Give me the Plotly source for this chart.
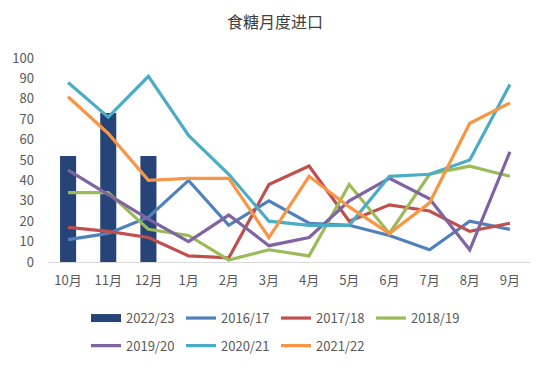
import plotly.graph_objects as go

months = ["10月", "11月", "12月", "1月", "2月", "3月", "4月", "5月", "6月", "7月", "8月", "9月"]
bar_name = "2022/23"
bar_values = [52, 73, 52]

s2016 = [11, 14, 22, 40, 18, 30, 19, 18, 13, 6, 20, 16]
s2017 = [17, 15, 12, 3, 2, 38, 47, 20, 28, 25, 15, 19]
s2018 = [34, 34, 16, 13, 1, 6, 3, 38, 14, 43, 47, 42]
s2019 = [45, 33, 21, 10, 23, 8, 12, 30, 41, 31, 6, 54]
s2020 = [88, 71, 91, 62, 43, 20, 18, 18, 42, 43, 50, 87]
s2021 = [81, 63, 40, 41, 41, 12, 42, 27, 14, 29, 68, 78]

series_names = ["2016/17", "2017/18", "2018/19", "2019/20", "2020/21", "2021/22"]
series_values = [s2016, s2017, s2018, s2019, s2020, s2021]
colors = ["#4f81bd", "#c0504d", "#9bbb59", "#8064a2", "#4bacc6", "#f79646"]
bar_color = "#264478"

font_family = "Noto Sans CJK SC, Noto Sans, sans-serif"
grey = "#595959"

fig = go.Figure()
fig.add_trace(go.Bar(
    x=months[:len(bar_values)], y=bar_values, name=bar_name,
    marker=dict(color=bar_color, line=dict(width=0)), width=0.4,
    legendgroup="bar", showlegend=False,
))
# legend-only entry so the bar key is drawn as a wide rectangle like the reference
fig.add_trace(go.Scatter(
    x=[None], y=[None], name=bar_name, mode="lines",
    line=dict(color=bar_color, width=8), legendgroup="bar", legend="legend",
    hoverinfo="skip",
))
for i, (name, vals, col) in enumerate(zip(series_names, series_values, colors)):
    fig.add_trace(go.Scatter(
        x=months, y=vals, name=name, mode="lines",
        line=dict(color=col, width=3.2),
        legend="legend" if i < 3 else "legend2",
    ))

legend_common = dict(
    orientation="h", xanchor="left", yanchor="middle",
    font=dict(size=13, color=grey, family=font_family),
    entrywidth=50, entrywidthmode="pixels",
    itemwidth=30, bgcolor="rgba(0,0,0,0)", tracegroupgap=0,
)
# the page body has a default 8px margin, so the figure is sized/offset to fit
fig.update_layout(
    width=542, height=360,
    margin=dict(l=40, r=20, t=50, b=106, autoexpand=False),
    paper_bgcolor="white", plot_bgcolor="white",
    title=dict(text="食糖月度进口", x=(275 - 8) / 542, xanchor="center",
               y=1 - 14 / 360, yanchor="middle",
               font=dict(size=16, color="#404040", family=font_family)),
    font=dict(family=font_family, color=grey, size=13),
    showlegend=True,
    barmode="overlay",
    xaxis=dict(
        type="category", categoryorder="array", categoryarray=months,
        range=[-0.5, 11.5], showline=True, linecolor="#d9d9d9", linewidth=1,
        showgrid=False, ticks="", tickfont=dict(size=13, color=grey),
        ticklabelstandoff=6, zeroline=False,
    ),
    yaxis=dict(
        range=[0, 100], tickmode="linear", tick0=0, dtick=10,
        showgrid=False, zeroline=False, showline=False, ticks="",
        tickfont=dict(size=13, color=grey), ticklabelstandoff=13,
    ),
    legend=dict(x=38 / 482, y=-0.275, **legend_common),
    legend2=dict(x=38 / 482, y=-0.41, **legend_common),
)

fig.write_html("out.html")
